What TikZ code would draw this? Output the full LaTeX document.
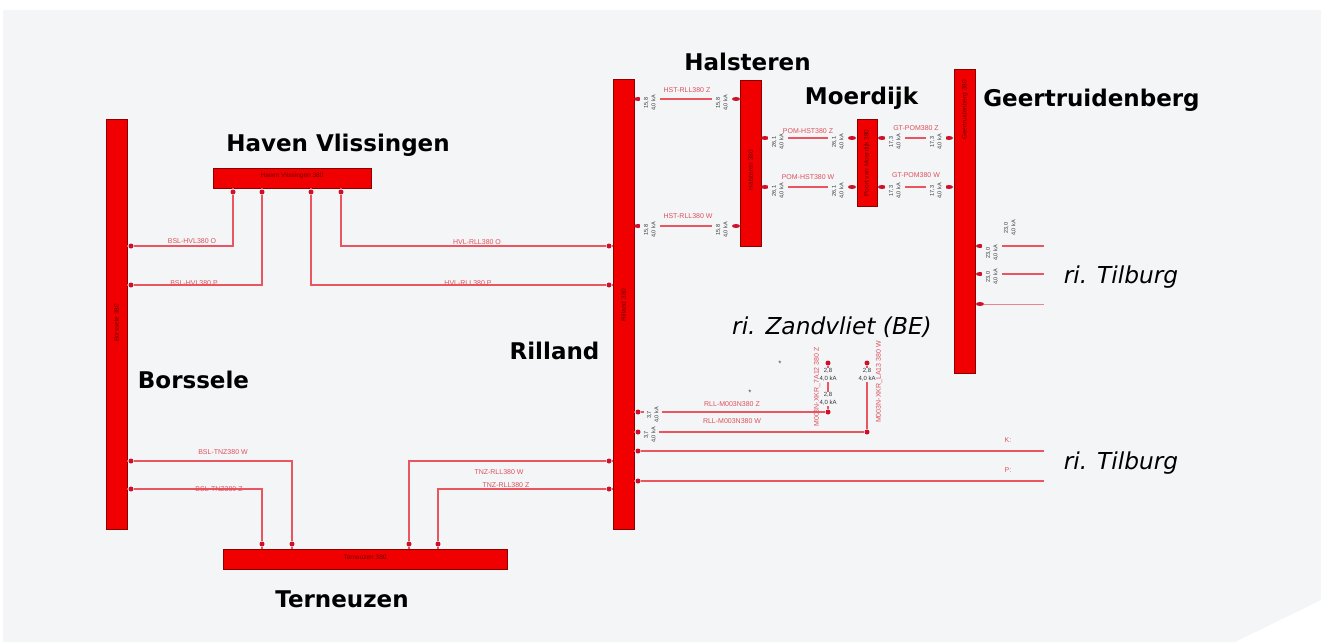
\documentclass[tikz,border=0pt]{standalone}
\usepackage{fontspec}
\setmainfont{Liberation Sans}
\newfontfamily\placefont{DejaVu Sans}
\usetikzlibrary{positioning,calc,shapes.geometric}
\definecolor{paper}{HTML}{F3F5F7}
\definecolor{busred}{HTML}{F00000}
\definecolor{linkred}{HTML}{EA5560}
\definecolor{dotred}{HTML}{D01028}

\begin{document}
\begin{tikzpicture}[
        x=1pt, y=-1pt,
        bus/.style={draw=red!55!black, line width=0.8pt, fill=busred, inner sep=0pt},
        buslabel/.style={font=\fontsize{6.5}{7}\selectfont, text=red!45!black, inner sep=0pt},
        dot/.style={circle, fill=dotred, inner sep=0pt, minimum size=5pt},
        stubdot/.style={ellipse, fill=dotred, inner sep=0pt, minimum width=8pt, minimum height=4pt},
        link/.style={linkred, line width=1.3pt},
        linkname/.style={font=\fontsize{7}{8}\selectfont, text=linkred!95!black, inner sep=0pt},
        val/.style={font=\fontsize{5.5}{7.5}\selectfont, text=black!80, align=center, fill=paper, inner xsep=1pt, inner ysep=0pt, minimum height=20pt, rotate=90},
        valflat/.style={font=\fontsize{6}{8}\selectfont, text=black!80, align=center, fill=paper, inner sep=0.5pt},
        place/.style={font=\placefont\bfseries\fontsize{23}{27}\selectfont, inner sep=0pt},
        towards/.style={font=\placefont\itshape\fontsize{23.3}{27}\selectfont, inner sep=0pt}
    ]
        \useasboundingbox (0,0) rectangle (1321,642);
        \fill[paper] (3,10) -- (1321,10) -- (1321,600) -- (1235,642) -- (3,642) -- cycle;

        % Busbars
        \node[bus, minimum width=21pt, minimum height=410pt] (bor) at (116.5,324) {};
        \node[bus, minimum width=158pt, minimum height=20pt] (hvl) at (292,178) {};
        \node[bus, minimum width=284pt, minimum height=20pt] (tnz) at (365,559) {};
        \node[bus, minimum width=21pt, minimum height=450pt] (rll) at (623.5,304) {};
        \node[bus, minimum width=21pt, minimum height=166pt] (hst) at (750.5,163) {};
        \node[bus, minimum width=20pt, minimum height=87pt] (pom) at (867,163) {};
        \node[bus, minimum width=21pt, minimum height=304pt] (gt) at (965,221) {};

        % Busbar labels
        \node[buslabel, rotate=90] (borlabel) at (116.5,323) {Borssele 380};
        \node[buslabel] (hvllabel) at (292,176) {Haven Vlissingen 380};
        \node[buslabel] (tnzlabel) at (365,557) {Terneuzen 380};
        \node[buslabel, rotate=90] (rlllabel) at (623.5,305) {Rilland 380};
        \node[buslabel, rotate=90] (hstlabel) at (750.5,170) {Halsteren 380};
        \node[buslabel, rotate=90] (pomlabel) at (867,163) {Poort van Moerdijk 380};
        \node[buslabel, rotate=90] (gtlabel) at (965,110) {Geertruidenberg 380};

        % Place names
        \node[place] (nameHvl) at (338,145) {Haven Vlissingen};
        \node[place] (nameBor) at (193.5,380) {Borssele};
        \node[place] (nameRll) at (554.5,351) {Rilland};
        \node[place] (nameHst) at (747.5,62) {Halsteren};
        \node[place] (namePom) at (861.5,98) {Moerdijk};
        \node[place] (nameGt) at (1091.5,100) {Geertruidenberg};
        \node[place] (nameTnz) at (342,599) {Terneuzen};
        \node[towards] (toZand) at (832,327) {ri. Zandvliet (BE)};
        \node[towards] (toTilA) at (1121,277) {ri. Tilburg};
        \node[towards] (toTilB) at (1121,463) {ri. Tilburg};

        % Borssele - Haven Vlissingen - Rilland
        \node[dot] (bor1) at (131,246) {};
        \node[dot] (bor2) at (131,285) {};
        \node[dot] (hvl1) at (233,192) {};
        \node[dot] (hvl2) at (262,192) {};
        \node[dot] (hvl3) at (311,192) {};
        \node[dot] (hvl4) at (341,192) {};
        \node[dot] (rll1) at (609,246) {};
        \node[dot] (rll2) at (609,285) {};
        \draw[link] (bor.east |- bor1) -- (bor1) -| (hvl1) -- (hvl1 |- hvl.south);
        \draw[link] (bor.east |- bor2) -- (bor2) -| (hvl2) -- (hvl2 |- hvl.south);
        \draw[link] (hvl3 |- hvl.south) -- (hvl3) |- (rll2) -- (rll.west |- rll2);
        \draw[link] (hvl4 |- hvl.south) -- (hvl4) |- (rll1) -- (rll.west |- rll1);
        \node[linkname] (nbor1) at (192,241) {BSL-HVL380 O};
        \node[linkname] (nbor2) at (194,283) {BSL-HVL380 P};
        \node[linkname] (nhvl1) at (477,242) {HVL-RLL380 O};
        \node[linkname] (nhvl2) at (468,283) {HVL-RLL380 P};

        % Borssele - Terneuzen - Rilland
        \node[dot] (bor3) at (131,461) {};
        \node[dot] (bor4) at (131,489) {};
        \node[dot] (tnz1) at (262,544) {};
        \node[dot] (tnz2) at (292,544) {};
        \node[dot] (tnz3) at (409,544) {};
        \node[dot] (tnz4) at (438,544) {};
        \node[dot] (rll3) at (609,461) {};
        \node[dot] (rll4) at (609,489) {};
        \draw[link] (bor.east |- bor3) -- (bor3) -| (tnz2) -- (tnz2 |- tnz.north);
        \draw[link] (bor.east |- bor4) -- (bor4) -| (tnz1) -- (tnz1 |- tnz.north);
        \draw[link] (tnz3 |- tnz.north) -- (tnz3) |- (rll3) -- (rll.west |- rll3);
        \draw[link] (tnz4 |- tnz.north) -- (tnz4) |- (rll4) -- (rll.west |- rll4);
        \node[linkname] (nbor3) at (223,452) {BSL-TNZ380 W};
        \node[linkname] (nbor4) at (219,489) {BSL-TNZ380 Z};
        \node[linkname] (ntnz3) at (499,472) {TNZ-RLL380 W};
        \node[linkname] (ntnz4) at (506,485) {TNZ-RLL380 Z};

        % Rilland - Halsteren
        \node[stubdot] (rllz) at (638,99) {};
        \node[stubdot] (rllw) at (638,226) {};
        \node[stubdot] (hstz) at (736,99) {};
        \node[stubdot] (hstw) at (736,226) {};
        \draw[link] (rllz) -- (hstz);
        \draw[link] (rllw) -- (hstw);
        \node[val] (v1) at (650,103) {15,8\\4,0 kA};
        \node[val] (v2) at (722,103) {15,8\\4,0 kA};
        \node[val] (v3) at (650,230) {15,8\\4,0 kA};
        \node[val] (v4) at (722,230) {15,8\\4,0 kA};
        \node[linkname] (nhstz) at (687,90) {HST-RLL380 Z};
        \node[linkname] (nhstw) at (688,216) {HST-RLL380 W};

        % Halsteren - Moerdijk
        \node[stubdot] (hstp) at (765,138) {};
        \node[stubdot] (hstq) at (765,187) {};
        \node[stubdot] (pomp) at (852,138) {};
        \node[stubdot] (pomq) at (852,187) {};
        \draw[link] (hstp) -- (pomp);
        \draw[link] (hstq) -- (pomq);
        \node[val] (v5) at (778,142) {26,1\\4,0 kA};
        \node[val] (v6) at (838,142) {26,1\\4,0 kA};
        \node[val] (v7) at (778,191) {26,1\\4,0 kA};
        \node[val] (v8) at (838,191) {26,1\\4,0 kA};
        \node[linkname] (npomz) at (808,131) {POM-HST380 Z};
        \node[linkname] (npomw) at (808,177) {POM-HST380 W};

        % Moerdijk - Geertruidenberg
        \node[stubdot] (pomr) at (882,138) {};
        \node[stubdot] (poms) at (882,187) {};
        \node[stubdot] (gtr) at (949,138) {};
        \node[stubdot] (gts) at (949,187) {};
        \draw[link] (pomr) -- (gtr);
        \draw[link] (poms) -- (gts);
        \node[val] (v9) at (895,142) {17,3\\4,0 kA};
        \node[val] (v10) at (936,142) {17,3\\4,0 kA};
        \node[val] (v11) at (895,191) {17,3\\4,0 kA};
        \node[val] (v12) at (936,191) {17,3\\4,0 kA};
        \node[linkname] (ngtz) at (916,128) {GT-POM380 Z};
        \node[linkname] (ngtw) at (916,175) {GT-POM380 W};

        % Geertruidenberg towards Tilburg
        \node[stubdot] (gta) at (980,246) {};
        \node[stubdot] (gtb) at (980,274) {};
        \node[stubdot] (gtc) at (980,304) {};
        \coordinate (enda) at (1044,246);
        \coordinate (endb) at (1044,274);
        \coordinate (endc) at (1044,304);
        \draw[link] (gta) -- (enda);
        \draw[link] (gtb) -- (endb);
        \draw[link, line width=0.7pt, opacity=0.7] (gtc) -- (endc);
        \node[val] (v13) at (992,253) {23,0\\4,0 kA};
        \node[val] (v14) at (992,277) {23,0\\4,0 kA};
        \node[val, fill=none] (v15) at (1010,228) {23,0\\4,0 kA};

        % Rilland towards Zandvliet
        \node[dot] (rllp) at (638,412) {};
        \node[dot] (rllq) at (638,432) {};
        \node[dot] (zandp) at (828,412) {};
        \node[dot] (zandq) at (867,432) {};
        \node[dot] (topp) at (828,363) {};
        \node[dot] (topq) at (867,363) {};
        \draw[link] (rllp) -- (zandp) -- (topp);
        \draw[link] (rllq) -- (zandq) -- (topq);
        \draw[link] (rll.east |- rllp) -- (rllp);
        \draw[link] (rll.east |- rllq) -- (rllq);
        \node[val, minimum height=18pt] (v16) at (653,415) {3,7\\4,0 kA};
        \node[val, minimum height=18pt] (v17) at (650,435) {3,7\\4,0 kA};
        \node[valflat] (v18) at (828,375) {2,8\\4,0 kA};
        \node[valflat] (v19) at (828,399) {2,8\\4,0 kA};
        \node[valflat] (v20) at (867,375) {2,8\\4,0 kA};
        \node[linkname] (nzandp) at (732,404) {RLL-M003N380 Z};
        \node[linkname] (nzandq) at (732,421) {RLL-M003N380 W};
        \node[linkname, rotate=90] (nkkrz) at (817,387) {M003N-XKR\_7A12 380 Z};
        \node[linkname, rotate=90] (nkkrw) at (879,382) {M003N-XKR\_LA13 380 W};
        \node[inner sep=0pt, text=black!70, font=\fontsize{8}{8}\selectfont] (starA) at (780,364) {*};
        \node[inner sep=0pt, text=black!70, font=\fontsize{8}{8}\selectfont] (starB) at (750,393) {*};

        % Rilland towards Tilburg
        \node[dot] (rllk) at (638,451) {};
        \node[dot] (rllm) at (638,481) {};
        \coordinate (endk) at (1044,451);
        \coordinate (endm) at (1044,481);
        \draw[link] (rll.east |- rllk) -- (rllk) -- (endk);
        \draw[link] (rll.east |- rllm) -- (rllm) -- (endm);
        \node[linkname] (nk) at (1008,440) {K:};
        \node[linkname] (nm) at (1008,470) {P:};

    \end{tikzpicture}
\end{document}
